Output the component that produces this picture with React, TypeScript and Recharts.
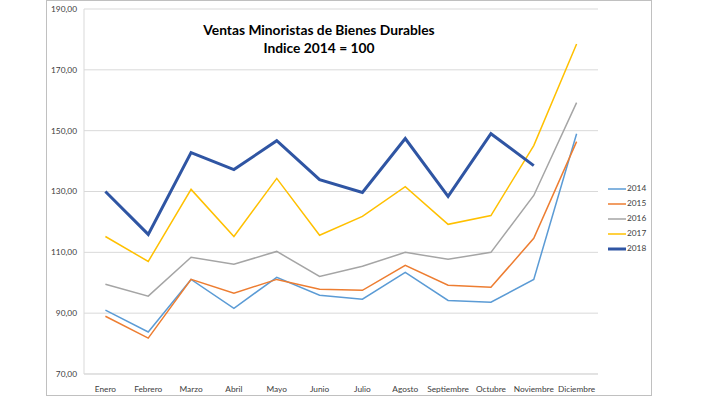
import React from 'react';
import { LineChart, Line, XAxis, YAxis, CartesianGrid, Legend } from 'recharts';

const months = ['Enero', 'Febrero', 'Marzo', 'Abril', 'Mayo', 'Junio', 'Julio', 'Agosto', 'Septiembre', 'Octubre', 'Noviembre', 'Diciembre'];
const s2014 = [91.0, 83.8, 101.1, 91.6, 101.8, 95.9, 94.6, 103.4, 94.2, 93.6, 101.1, 149.0];
const s2015 = [89.0, 81.8, 101.1, 96.6, 101.1, 97.9, 97.5, 105.7, 99.2, 98.5, 114.6, 146.4];
const s2016 = [99.5, 95.6, 108.4, 106.1, 110.3, 102.1, 105.4, 110.0, 107.7, 110.0, 128.7, 159.2];
const s2017 = [115.2, 107.0, 130.7, 115.2, 134.3, 115.6, 121.8, 131.6, 119.2, 122.1, 145.1, 178.5];
const s2018 = [130.0, 115.9, 142.8, 137.2, 146.7, 133.9, 129.7, 147.4, 128.4, 149.0, 138.5, null];
const yTicks = [70, 90, 110, 130, 150, 170, 190];
const boundaryTicks = [0, 1, 2, 3, 4, 5, 6, 7, 8, 9, 10, 11, 12];
const seriesNames = ['2014', '2015', '2016', '2017', '2018'];
const seriesValues = [s2014, s2015, s2016, s2017, s2018];
const titleLines = ['Ventas Minoristas de Bienes Durables', 'Indice 2014 = 100'];

const colors = ['#5B9BD5', '#ED7D31', '#A5A5A5', '#FFC000', '#2F55A3'];
const widths = [1.5, 1.5, 1.5, 1.5, 3];

const data = months.map((m, i) => {
  const row: Record<string, any> = { month: m };
  seriesNames.forEach((n, k) => {
    row[n] = seriesValues[k][i];
  });
  return row;
});

const FONT = 'Lato, "Liberation Sans", sans-serif';
const TICK_SIZE = 8.3;

const fmt = (v: number) => v.toFixed(2).replace('.', ',');

const EmptyTick = () => <g />;

const LegendContent = () => (
  <div style={{ fontFamily: FONT, fontSize: TICK_SIZE, color: '#404040' }}>
    {seriesNames.map((n, i) => (
      <div key={n} style={{ display: 'flex', alignItems: 'center', height: 15 }}>
        <svg width={18} height={4} style={{ display: 'block' }}>
          <line x1={0} y1={2} x2={18} y2={2} stroke={colors[i]} strokeWidth={widths[i]} />
        </svg>
        <span style={{ marginLeft: 1, lineHeight: '15px' }}>{n}</span>
      </div>
    ))}
  </div>
);

export default function App() {
  return (
    <div style={{ position: 'absolute', left: 0, top: 0, width: 704, height: 396, background: '#fff' }}>
      <div
        style={{
          position: 'absolute',
          left: 46,
          top: 0,
          width: 604,
          height: 394,
          border: '1px solid #C0C0C0',
        }}
      />
      <LineChart
        width={704}
        height={396}
        data={data}
        margin={{ top: 9, right: 106, bottom: 0, left: 0 }}
        style={{ position: 'absolute', left: 0, top: 0 }}
      >
        <CartesianGrid vertical={false} stroke="#D9D9D9" strokeWidth={1} />
        <XAxis
          xAxisId="bounds"
          type="number"
          domain={[0, 12]}
          ticks={boundaryTicks}
          tick={EmptyTick}
          axisLine={false}
          tickLine={{ stroke: '#BFBFBF' }}
          tickSize={5}
          height={1}
          allowDataOverflow
          interval={0}
        />
        <XAxis
          dataKey="month"
          height={21}
          padding={{ left: 21.4, right: 21.4 }}
          axisLine={{ stroke: '#D9D9D9' }}
          tickLine={false}
          tickMargin={6}
          interval={0}
          tick={{ fontFamily: FONT, fontSize: TICK_SIZE, fill: '#404040' }}
        />
        <YAxis
          domain={[70, 190]}
          ticks={yTicks}
          width={84}
          tickFormatter={fmt}
          axisLine={{ stroke: '#D9D9D9' }}
          tickLine={false}
          tickSize={0}
          tickMargin={7}
          interval={0}
          tick={{ fontFamily: FONT, fontSize: TICK_SIZE, fill: '#404040' }}
        />
        <Legend
          layout="vertical"
          align="center"
          verticalAlign="middle"
          content={<LegendContent />}
          wrapperStyle={{ left: 608, top: 181, width: 50 }}
        />
        {seriesNames.map((n, i) => (
          <Line
            key={n}
            type="linear"
            dataKey={n}
            stroke={colors[i]}
            strokeWidth={widths[i]}
            dot={false}
            activeDot={false}
            isAnimationActive={false}
          />
        ))}
      </LineChart>
      <div
        style={{
          position: 'absolute',
          left: 180,
          top: 21,
          width: 278,
          textAlign: 'center',
          fontFamily: FONT,
          fontWeight: 700,
          fontSize: 13.8,
          lineHeight: '18px',
          color: '#000',
        }}
      >
        {titleLines.map((t) => (
          <div key={t}>{t}</div>
        ))}
      </div>
    </div>
  );
}
